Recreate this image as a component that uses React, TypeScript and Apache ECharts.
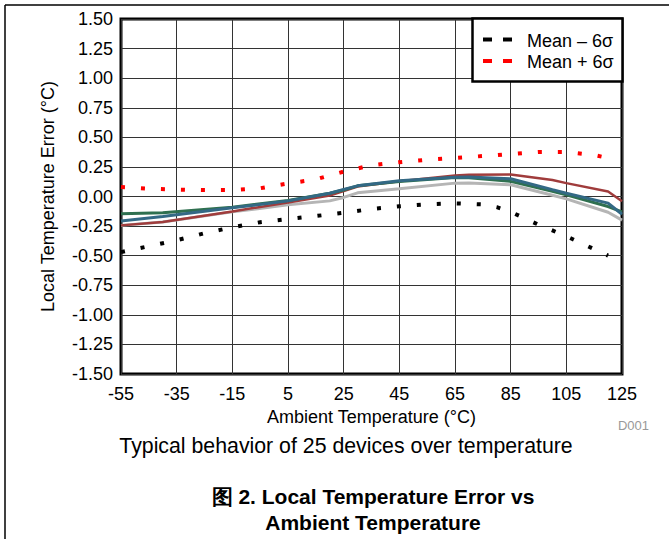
import React, { useEffect, useRef } from "react";
import * as echarts from "echarts";

// Temperatures (°C) at which the individual device curves are sampled
const unitTemps = [-55, -40, -15, 5, 20, 25, 30, 45, 65, 70, 85, 100, 105, 120, 125];
const unitGray = [-0.244, -0.216, -0.13, -0.07, -0.037, -0.008, 0.031, 0.065, 0.113, 0.115, 0.099, 0.01, -0.02, -0.133, -0.2];
const unitRed = [-0.244, -0.216, -0.126, -0.05, 0.008, 0.045, 0.084, 0.129, 0.177, 0.183, 0.186, 0.14, 0.113, 0.042, -0.04];
const unitGreen = [-0.146, -0.138, -0.09, -0.034, 0.028, 0.055, 0.09, 0.126, 0.16, 0.158, 0.128, 0.045, 0.014, -0.085, -0.13];
const unitBlue = [-0.208, -0.169, -0.096, -0.037, 0.028, 0.06, 0.09, 0.133, 0.163, 0.165, 0.15, 0.058, 0.028, -0.056, -0.15];

// Mean ± 6σ envelopes
const sigmaTemps = [-55, -45, -35, -25, -15, -5, 5, 15, 25, 35, 45, 55, 65, 75, 80, 85, 95, 105, 115, 120];
const meanMinus6Sigma = [-0.47, -0.42, -0.37, -0.31, -0.26, -0.217, -0.19, -0.165, -0.138, -0.105, -0.083, -0.066, -0.058, -0.067, -0.09, -0.13, -0.238, -0.336, -0.445, -0.5];
const meanPlus6Sigma = [0.08, 0.066, 0.058, 0.054, 0.055, 0.07, 0.11, 0.145, 0.21, 0.264, 0.29, 0.311, 0.325, 0.342, 0.35, 0.36, 0.376, 0.376, 0.35, 0.325];

const legendNames = ["Mean \u2013 6\u03c3", "Mean + 6\u03c3"];
const xAxisTitle = "Ambient Temperature (\u00b0C)";
const yAxisTitle = "Local Temperature Error (\u00b0C)";
const captionText = "Typical behavior of 25 devices over temperature";
const titleLine1 = "\u56fe 2. Local Temperature Error vs";
const titleLine2 = "Ambient Temperature";
const figureId = "D001";

const FONT = "'Liberation Sans', Arial, Helvetica, sans-serif";

const pairs = (xs: number[], ys: number[]) => xs.map((x, i) => [x, ys[i]]);

export default function App() {
  const ref = useRef<HTMLDivElement>(null);

  useEffect(() => {
    if (!ref.current) return;
    const chart = echarts.init(ref.current, undefined, { renderer: "svg" });

    const solid = (name: string, ys: number[], color: string, width: number) => ({
      name,
      type: "line",
      data: pairs(unitTemps, ys),
      symbol: "none",
      lineStyle: { color, width },
      z: 3,
    });
    const dotted = (name: string, ys: number[], color: string) => ({
      name,
      type: "line",
      data: pairs(sigmaTemps, ys),
      symbol: "none",
      lineStyle: { color, width: 4, type: [4, 16], cap: "butt" },
      z: 4,
    });

    const txt = (
      text: string,
      x: number,
      y: number,
      fontSize: number,
      align: string,
      extra: any = {}
    ) => ({
      type: "text",
      x,
      y,
      z: 110,
      style: {
        text,
        fontSize,
        fontFamily: FONT,
        fill: "#000",
        textAlign: align,
        align,
        textVerticalAlign: "middle",
        verticalAlign: "middle",
        ...extra,
      },
    });

    chart.setOption({
      animation: false,
      backgroundColor: "#fff",
      grid: {
        left: 121,
        right: 47,
        top: 19,
        bottom: 165,
        show: true,
        borderColor: "#000",
        borderWidth: 3,
        backgroundColor: "transparent",
      },
      xAxis: {
        type: "value",
        min: -55,
        max: 125,
        interval: 20,
        name: xAxisTitle,
        nameLocation: "middle",
        nameGap: 27,
        nameTextStyle: { fontSize: 18, fontFamily: FONT, color: "#000" },
        axisLine: { show: false },
        axisTick: { show: false },
        axisLabel: { fontSize: 18, fontFamily: FONT, color: "#000", margin: 11 },
        splitLine: { show: true, lineStyle: { color: "#333", width: 1 } },
      },
      yAxis: {
        type: "value",
        min: -1.5,
        max: 1.5,
        interval: 0.25,
        name: yAxisTitle,
        nameLocation: "middle",
        nameGap: 64,
        nameTextStyle: { fontSize: 18, fontFamily: FONT, color: "#000" },
        axisLine: { show: false },
        axisTick: { show: false },
        axisLabel: {
          fontSize: 18,
          fontFamily: FONT,
          color: "#000",
          margin: 8,
          formatter: (v: number) => v.toFixed(2),
        },
        splitLine: { show: true, lineStyle: { color: "#333", width: 1 } },
      },
      series: [
        solid("Unit A", unitGray, "#b5b5b5", 3),
        solid("Unit B", unitRed, "#a03c3c", 2.5),
        solid("Unit C", unitGreen, "#2f7050", 3),
        solid("Unit D", unitBlue, "#336985", 3),
        dotted(legendNames[0], meanMinus6Sigma, "#000"),
        dotted(legendNames[1], meanPlus6Sigma, "#ff0000"),
      ],
      graphic: [
        { type: "line", z: 120, shape: { x1: 5, y1: 5, x2: 669, y2: 5 }, style: { stroke: "#000", lineWidth: 1.5 } },
        { type: "line", z: 120, shape: { x1: 5, y1: 5, x2: 5, y2: 539 }, style: { stroke: "#000", lineWidth: 1.5 } },
        {
          type: "rect",
          z: 100,
          shape: { x: 472.5, y: 18.5, width: 150, height: 63 },
          style: { fill: "#fff", stroke: "#000", lineWidth: 2.5 },
        },
        { type: "rect", z: 105, shape: { x: 483, y: 37.5, width: 9, height: 4 }, style: { fill: "#000" } },
        { type: "rect", z: 105, shape: { x: 503, y: 37.5, width: 9, height: 4 }, style: { fill: "#000" } },
        { type: "rect", z: 105, shape: { x: 483, y: 59, width: 9, height: 4 }, style: { fill: "#ff0000" } },
        { type: "rect", z: 105, shape: { x: 503, y: 59, width: 9, height: 4 }, style: { fill: "#ff0000" } },
        txt(legendNames[0], 527, 40.5, 18, "left"),
        txt(legendNames[1], 527, 61.5, 18, "left"),
        txt(figureId, 649, 425, 13, "right", { fill: "#999" }),
        txt(captionText, 346, 446, 21.3, "center"),
        txt(titleLine1, 373, 496, 21, "center", { fontWeight: "bold" }),
        txt(titleLine2, 373, 522, 21, "center", { fontWeight: "bold" }),
      ],
    });

    return () => chart.dispose();
  }, []);

  return (
    <div
      ref={ref}
      style={{ position: "absolute", left: 0, top: 0, width: 669, height: 539 }}
    />
  );
}
